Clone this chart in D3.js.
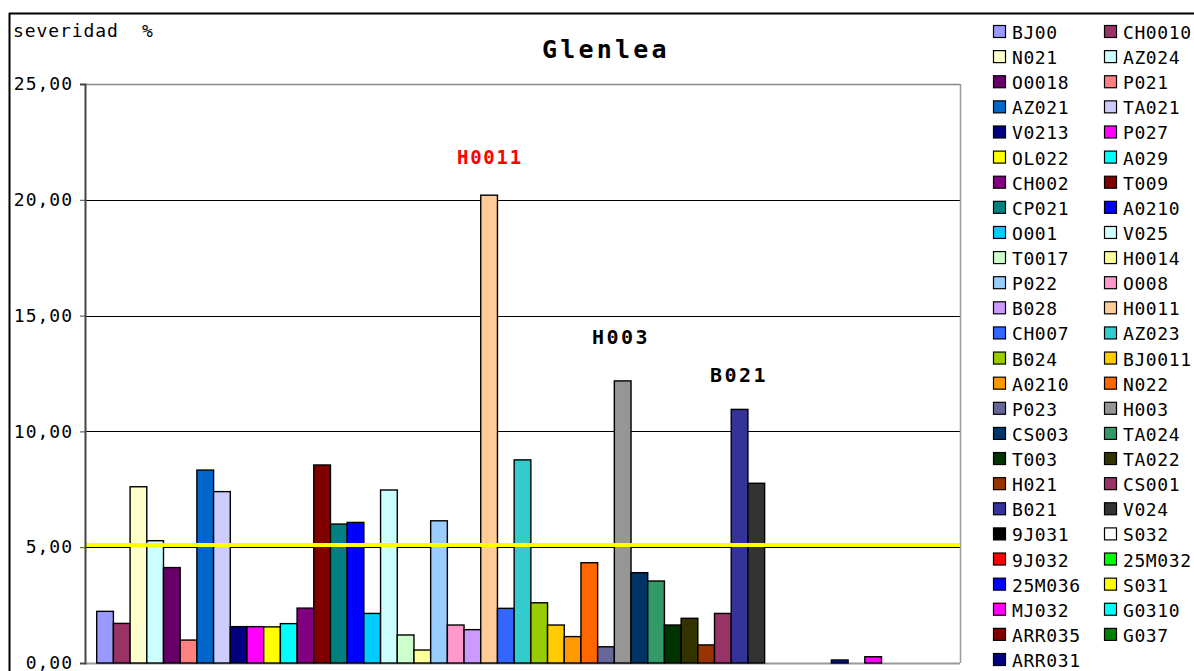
<!DOCTYPE html>
<html><head><meta charset="utf-8">
<script src="https://cdn.jsdelivr.net/npm/d3@7"></script>
<style>
html,body{margin:0;padding:0;background:#fff;}
svg{display:block;font-family:"DejaVu Sans Mono",monospace;}
</style></head>
<body><svg id="c" width="1194" height="671"></svg>
<script>
const seriesNames = ["BJ00","CH0010","N021","AZ024","O0018","P021","AZ021","TA021","V0213","P027","OL022","A029","CH002","T009","CP021","A0210","O001","V025","T0017","H0014","P022","O008","B028","H0011","CH007","AZ023","B024","BJ0011","A0210","N022","P023","H003","CS003","TA024","T003","TA022","H021","CS001","B021","V024","9J031","S032","9J032","25M032","25M036","S031","MJ032","G0310","ARR035","G037","ARR031"];
const seriesValues = [2.23,1.71,7.61,5.28,4.12,0.99,8.33,7.40,1.57,1.57,1.56,1.70,2.37,8.55,6.00,6.07,2.14,7.47,1.21,0.56,6.14,1.64,1.44,20.20,2.36,8.77,2.60,1.64,1.14,4.33,0.70,12.18,3.90,3.54,1.64,1.93,0.78,2.14,10.95,7.76,0,0,0,0,0.13,0,0.27,0,0,0,0];
const seriesColors = ["#9999FF","#993366","#FFFFCC","#CCFFFF","#660066","#FF8080","#0066CC","#CCCCFF","#000080","#FF00FF","#FFFF00","#00FFFF","#800080","#800000","#008080","#0000FF","#00CCFF","#CCFFFF","#CCFFCC","#FFFF99","#99CCFF","#FF99CC","#CC99FF","#FFCC99","#3366FF","#33CCCC","#99CC00","#FFCC00","#FF9900","#FF6600","#666699","#969696","#003366","#339966","#003300","#333300","#993300","#993366","#333399","#333333","#000000","#FFFFFF","#FF0000","#00FF00","#0000FF","#FFFF00","#FF00FF","#00FFFF","#800000","#008000","#000080"];
const yTicks = [0,5,10,15,20,25];
const tickLabels = ["0,00","5,00","10,00","15,00","20,00","25,00"];
const thresholdValue = 5.09;
const annotations = [
  {name:"H0011", index:23, value:20.2, color:"#FF0000"},
  {name:"H003", index:31, value:12.18, color:"#000000"},
  {name:"B021", index:38, value:10.95, color:"#000000"}
];
const titleText = "Glenlea";
const yAxisTitle = "severidad  %";

const svg = d3.select("#c");
const L = 85, R = 960, T = 84, B = 663;
const y = d3.scaleLinear().domain([0,25]).range([B,T]);
const x = d3.scaleBand().domain(d3.range(seriesNames.length)).range([L+11.7, R-11.7]).padding(0);

// outer frame
svg.append("line").attr("x1",9).attr("x2",1194).attr("y1",13.5).attr("y2",13.5).attr("stroke","#000").attr("stroke-width",2);
svg.append("line").attr("x1",9.5).attr("x2",9.5).attr("y1",13).attr("y2",671).attr("stroke","#000").attr("stroke-width",2);

// gridlines
svg.append("g").selectAll("line").data(yTicks.filter(d=>d>0 && d<25)).join("line")
  .attr("x1",L).attr("x2",R).attr("y1",d=>Math.round(y(d))+0.5).attr("y2",d=>Math.round(y(d))+0.5)
  .attr("stroke","#000").attr("stroke-width",1);
// plot border top/right/bottom
svg.append("line").attr("x1",L).attr("x2",R).attr("y1",T+0.5).attr("y2",T+0.5).attr("stroke","#888").attr("stroke-width",1.5);
svg.append("line").attr("x1",R+0.5).attr("x2",R+0.5).attr("y1",T).attr("y2",B).attr("stroke","#999").attr("stroke-width",1.5);
svg.append("line").attr("x1",L).attr("x2",R).attr("y1",B+0.5).attr("y2",B+0.5).attr("stroke","#999").attr("stroke-width",2);

// bars
svg.append("g").selectAll("rect").data(seriesValues.map((v,i)=>({v,i}))).join("rect")
  .filter(d=>d.v>0)
  .attr("x",d=>x(d.i)).attr("width",x.bandwidth())
  .attr("y",d=>y(d.v)).attr("height",d=>y(0)-y(d.v))
  .attr("fill",d=>seriesColors[d.i]).attr("stroke","#000").attr("stroke-width",1.4);

// threshold line
svg.append("line").attr("x1",L).attr("x2",R).attr("y1",y(thresholdValue)).attr("y2",y(thresholdValue))
  .attr("stroke","#FFFF00").attr("stroke-width",4);

// y axis
const axis = d3.axisLeft(y).tickValues(yTicks).tickSize(5).tickFormat((d,i)=>tickLabels[i]);
const ag = svg.append("g").attr("transform",`translate(${L},0)`).call(axis);
ag.select(".domain").attr("stroke","#444").attr("stroke-width",2);
ag.selectAll(".tick line").attr("stroke","#444").attr("stroke-width",1);
ag.selectAll(".tick text").attr("x",-12).attr("font-size",18).attr("letter-spacing","1px")
  .attr("fill","#000").attr("font-family","DejaVu Sans Mono");

// axis title
svg.append("text").attr("x",13).attr("y",37).attr("font-size",18).attr("letter-spacing","0.9px")
  .style("white-space","pre").attr("xml:space","preserve").text(yAxisTitle);

// title
svg.append("text").attr("x",606).attr("y",58).attr("text-anchor","middle").attr("font-size",25)
  .attr("font-weight","bold").attr("letter-spacing","3.2px").text(titleText);

// annotations
const annX = [490, 621, 739];
const annY = [164, 344, 382];
const annSize = [19, 20, 20];
const annLS = [1.8, 2.5, 2.5];
annotations.forEach((a,k)=>{
  svg.append("text").attr("x",annX[k]).attr("y",annY[k]).attr("text-anchor","middle")
    .attr("font-size",annSize[k]).attr("font-weight","bold").attr("letter-spacing",annLS[k]+"px")
    .attr("fill",a.color).text(a.name);
});

// legend
const lg = svg.append("g");
seriesNames.forEach((n,i)=>{
  const col = i%2, row = Math.floor(i/2);
  const sx = col===0 ? 993 : 1104;
  const cy = 32 + row*25.12;
  lg.append("rect").attr("x",sx+0.5).attr("y",cy-6.5).attr("width",12).attr("height",12)
    .attr("fill",seriesColors[i]).attr("stroke","#000").attr("stroke-width",1.2);
  lg.append("text").attr("x",sx+19).attr("y",cy+7).attr("font-size",18).attr("letter-spacing","0.6px").text(n);
});
</script></body></html>
